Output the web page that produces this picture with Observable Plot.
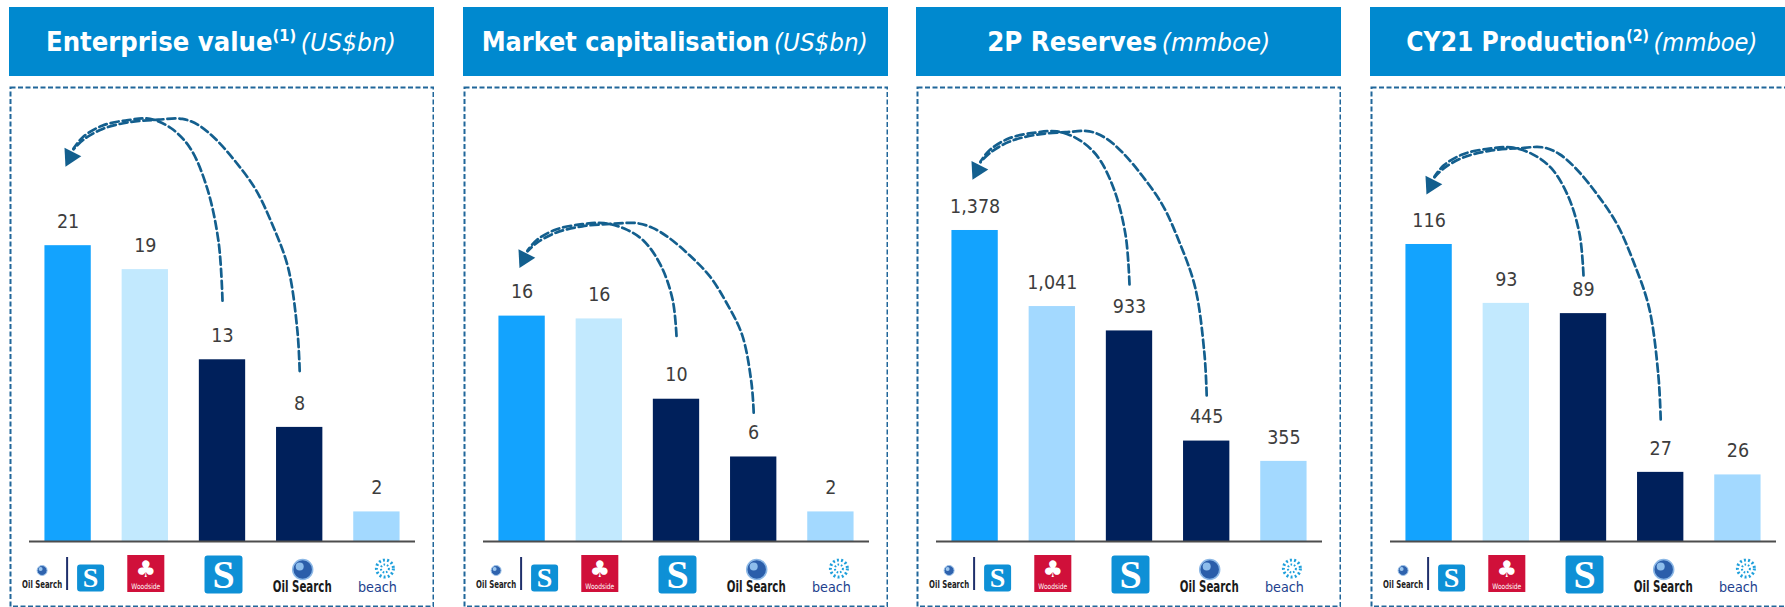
<!DOCTYPE html>
<html>
<head>
<meta charset="utf-8">
<script src="https://cdn.jsdelivr.net/npm/d3@7"></script>
<script src="https://cdn.jsdelivr.net/npm/@observablehq/plot@0.6"></script>
<style>
  html, body { margin: 0; padding: 0; background: #fff; }
  #root { position: relative; width: 1785px; height: 607px; overflow: hidden; }
  .hdr { position: absolute; top: 7px; height: 69px; width: 425px; background: #0089CF; color: #fff;
         display: flex; align-items: center; justify-content: center; white-space: nowrap;
         font-family: "DejaVu Sans", sans-serif; }
  .hdr .t { display: inline-block; transform-origin: 50% 50%; }
  .hdr b { font-weight: bold; font-size: 26.5px; }
  .hdr sup { font-weight: bold; font-size: 16px; vertical-align: baseline; position: relative; top: -10px; }
  .hdr i { font-weight: normal; font-style: italic; font-size: 25.5px; }
  .panel { position: absolute; top: 86px; width: 425px; }
</style>
</head>
<body>
<div id="root"></div>
<script>
// ---------- data ----------
const companies = ["Oil Search | Santos", "Woodside", "Santos", "Oil Search", "Beach"];
const panelTitles = ["Enterprise value", "Market capitalisation", "2P Reserves", "CY21 Production"];
const titleNotes = ["(1)", "", "", "(2)"];
const panelUnits = ["(US$bn)", "(US$bn)", "(mmboe)", "(mmboe)"];

const enterpriseValue = [21.0, 19.3, 12.9, 8.1, 2.1];
const marketCap = [16.0, 15.8, 10.1, 6.0, 2.1];
const reserves2P = [1378, 1041, 933, 445, 355];
const production = [116, 93, 89, 27, 26];

const yMax = [32.3, 32.3, 2016, 177.7];

const barColors = [
  ["#13A3FE", "#C2E9FE", "#00205B", "#00205B", "#A3D9FF"],
  ["#13A3FE", "#C2E9FE", "#00205B", "#00205B", "#A3D9FF"],
  ["#13A3FE", "#A3D9FF", "#00205B", "#00205B", "#A3D9FF"],
  ["#13A3FE", "#C2E9FE", "#00205B", "#00205B", "#A3D9FF"]
];

// arrow annotations (data units of each panel)
const arrowStartSantos = [17.1, 14.6, 1139, 103.9];
const arrowStartOilSearch = [12.1, 9.15, 647, 47.7];
const arrowApex = [30.0, 22.6, 1817, 153.9];
const arrowHead = [27.3, 20.1, 1646, 139.3];

// arrow shape templates: [bar index, fraction of the rise] / [bar index, fraction of the fall]
const innerRise = [[2.0, 0], [1.95, 0.32], [1.8, 0.62], [1.58, 0.84], [1.33, 0.95], [1.06, 1]];
const innerFall = [[0.78, 0.03], [0.44, 0.18], [0.19, 0.48], [0.07, 0.78]];
const outerRise = [[3, 0], [2.97, 0.16], [2.85, 0.41], [2.64, 0.585], [2.43, 0.72], [2.17, 0.83], [1.91, 0.92], [1.69, 0.975], [1.48, 1]];
const outerFall = [[1.17, 0.02], [0.78, 0.09], [0.44, 0.27], [0.19, 0.56], [0.07, 0.8]];

// ---------- layout ----------
const panelLeft = [9, 462.5, 916, 1369.5];
const headerTextWidths = [350, 386, 283, 351];
const W = 425, H = 521, mL = 20, mR = 19, mT = 0, mB = 66;
const innerH = H - mT - mB;

const fmt = d3.format(",.0f");
const series = [enterpriseValue, marketCap, reserves2P, production];
const root = document.getElementById("root");
const labelFont = "DejaVu Sans Condensed, DejaVu Sans, sans-serif";
const narrowFont = "DejaVu Sans Condensed, DejaVu Sans, sans-serif";
const arrowColor = "#135F8E";
const santosBlue = "#0E90D6";

series.forEach((values, p) => {
  // header
  const hdr = document.createElement("div");
  hdr.className = "hdr";
  hdr.style.left = panelLeft[p] + "px";
  const t = document.createElement("span");
  t.className = "t";
  t.innerHTML = `<b>${panelTitles[p]}</b>${titleNotes[p] ? `<sup>${titleNotes[p]}</sup>` : ""} <i>${panelUnits[p]}</i>`;
  hdr.appendChild(t);
  root.appendChild(hdr);
  const w = t.getBoundingClientRect().width;
  if (w > 0) t.style.transform = `scaleX(${headerTextWidths[p] / w})`;

  // chart
  const rows = values.map((v, i) => ({i, value: v, color: barColors[p][i], company: companies[i]}));
  const top = yMax[p];
  const below = px => -px * top / innerH;

  const pts = [];
  const apex = arrowApex[p], head = arrowHead[p];
  function addArrow(name, rise, fall, start) {
    for (const [x, f] of rise) pts.push({line: name, x, y: start + f * (apex - start)});
    for (const [x, g] of fall) pts.push({line: name, x, y: apex - g * (apex - head)});
  }
  addArrow("from Santos", innerRise, innerFall, arrowStartSantos[p]);
  addArrow("from Oil Search", outerRise, outerFall, arrowStartOilSearch[p]);

  const logo = k => [rows[k]];

  const chart = Plot.plot({
    width: W, height: H,
    marginLeft: mL, marginRight: mR, marginTop: mT, marginBottom: mB,
    x: {domain: [-0.5, 4.5], axis: null},
    y: {domain: [0, top], axis: null},
    color: {type: "identity"},
    marks: [
      Plot.frame({stroke: "#21679A", strokeWidth: 2, strokeDasharray: "5,2.5",
                  insetLeft: -19, insetRight: -18, insetTop: 1, insetBottom: -65}),
      Plot.rect(rows, {x1: d => d.i - 0.3, x2: d => d.i + 0.3, y1: 0, y2: "value", fill: "color"}),
      Plot.ruleY([0], {stroke: "#4d4d4d", strokeWidth: 2}),
      Plot.text(rows, {x: "i", y: "value", text: d => fmt(d.value), dy: -24,
                       fontSize: 19.5, fill: "#3d3d3d", fontFamily: labelFont}),
      Plot.line(pts, {x: "x", y: "y", z: "line", curve: "catmull-rom",
                      stroke: arrowColor, strokeWidth: 2.7, strokeDasharray: "8,4"}),
      Plot.dot([{x: 0.03, y: head}], {x: "x", y: "y", symbol: "triangle", r: 7, rotate: 207, fill: arrowColor}),

      // logo: Oil Search | Santos
      Plot.dot(logo(0), {x: "i", y: 0, dx: -26, dy: 29, r: 5, fill: "#2F63AE", stroke: "#9DC3EA", strokeWidth: 1}),
      Plot.dot(logo(0), {x: "i", y: 0, dx: -27.5, dy: 27.5, r: 2, fill: "#9CC6EE"}),
      Plot.text(logo(0), {x: "i", y: 0, dx: -26, dy: 46, text: () => "Oil Search", lineAnchor: "bottom",
                          fontSize: 10, fontWeight: "bold", fontFamily: narrowFont, fill: "#222"}),
      Plot.ruleX(logo(0), {x: "i", dx: -1, y1: below(16), y2: below(49), stroke: "#1F2F6B", strokeWidth: 2}),
      Plot.dot(logo(0), {x: "i", y: 0, dx: 22.5, dy: 36.5, symbol: "square", r: 11.85, fill: santosBlue,
                         stroke: santosBlue, strokeWidth: 6, strokeLinejoin: "round"}),
      Plot.text(logo(0), {x: "i", y: 0, dx: 22.5, dy: 37, text: () => "S", fontSize: 28, fontWeight: "bold",
                          fontFamily: "Liberation Serif, DejaVu Serif, serif", fill: "#fff"}),

      // logo: Woodside
      Plot.dot(logo(1), {x: "i", y: 0, dx: 0.5, dy: 32, symbol: "square", r: 20.9, fill: "#D0103A"}),
      Plot.text(logo(1), {x: "i", y: 0, dx: 0.5, dy: 28, text: () => "♣", fontSize: 23,
                          fontFamily: "DejaVu Sans, sans-serif", fill: "#fff"}),
      Plot.text(logo(1), {x: "i", y: 0, dx: 0.5, dy: 47.5, text: () => "Woodside", lineAnchor: "bottom",
                          fontSize: 7.5, fontFamily: "DejaVu Sans, sans-serif", fill: "#fff"}),

      // logo: Santos
      Plot.dot(logo(2), {x: "i", y: 0, dx: 1, dy: 33, symbol: "square", r: 18.05, fill: santosBlue,
                         stroke: santosBlue, strokeWidth: 6, strokeLinejoin: "round"}),
      Plot.text(logo(2), {x: "i", y: 0, dx: 1, dy: 34, text: () => "S", fontSize: 40, fontWeight: "bold",
                          fontFamily: "Liberation Serif, DejaVu Serif, serif", fill: "#fff"}),

      // logo: Oil Search
      Plot.dot(logo(3), {x: "i", y: 0, dx: 3, dy: 28, r: 10, fill: "#2B5EAA", stroke: "#8CB8E6", strokeWidth: 1.5}),
      Plot.dot(logo(3), {x: "i", y: 0, dx: 0, dy: 25, r: 4, fill: "#8DBDEB"}),
      Plot.text(logo(3), {x: "i", y: 0, dx: 2.5, dy: 50.5, text: () => "Oil Search", lineAnchor: "bottom",
                          fontSize: 16, fontWeight: "bold", fontFamily: narrowFont, fill: "#1a1a1a"}),

      // logo: Beach
      Plot.dot(logo(4), {x: "i", y: 0, dx: 8, dy: 27, r: 8.5, fill: "none", stroke: "#1E9FDB",
                         strokeWidth: 3, strokeDasharray: "2,2.2"}),
      Plot.dot(logo(4), {x: "i", y: 0, dx: 8, dy: 27, r: 4, fill: "none", stroke: "#1E9FDB",
                         strokeWidth: 2, strokeDasharray: "1.6,1.8"}),
      Plot.text(logo(4), {x: "i", y: 0, dx: 0.5, dy: 50.5, text: () => "beach", lineAnchor: "bottom",
                          fontSize: 14, fontFamily: "DejaVu Sans, sans-serif", fill: "#213F8E"})
    ]
  });

  // fit the logo word-marks to their drawn widths
  chart.querySelectorAll("text").forEach(el => {
    const s = el.textContent;
    const fs = parseFloat(el.getAttribute("font-size") || el.parentNode.getAttribute("font-size"));
    if (s === "Oil Search") {
      el.setAttribute("textLength", fs > 12 ? 59 : 40);
      el.setAttribute("lengthAdjust", "spacingAndGlyphs");
    } else if (s === "beach") {
      el.setAttribute("textLength", 39);
      el.setAttribute("lengthAdjust", "spacingAndGlyphs");
    } else if (s === "Woodside") {
      el.setAttribute("textLength", 29);
      el.setAttribute("lengthAdjust", "spacingAndGlyphs");
    }
  });

  const holder = document.createElement("div");
  holder.className = "panel";
  holder.style.left = panelLeft[p] + "px";
  holder.appendChild(chart);
  root.appendChild(holder);
});
</script>
</body>
</html>
